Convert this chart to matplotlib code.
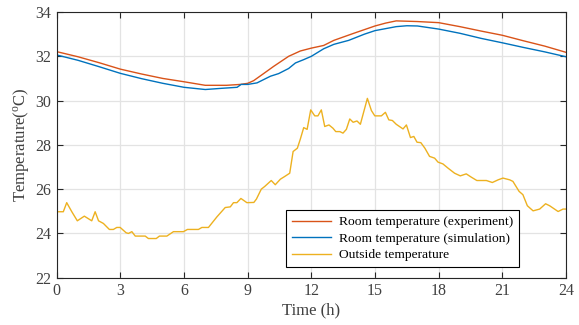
import matplotlib
matplotlib.use("Agg")
import matplotlib.pyplot as plt

plt.rcParams['font.family'] = ['Liberation Serif', 'DejaVu Serif']
plt.rcParams['mathtext.fontset'] = 'custom'
plt.rcParams['mathtext.rm'] = 'Liberation Serif'
plt.rcParams['mathtext.it'] = 'Liberation Serif:italic'

# Outside temperature (hours, degC)
out_t = [0, 0.31, 0.47, 0.71, 0.97, 1.3, 1.65, 1.81, 1.97, 2.2, 2.48, 2.67, 2.83, 2.99,
         3.27, 3.38, 3.54, 3.7, 4.17, 4.32, 4.69, 4.84, 5.19, 5.5, 5.97, 6.16, 6.68, 6.84,
         7.15, 7.55, 7.94, 8.18, 8.33, 8.49, 8.68, 8.96, 9.29, 9.41, 9.64, 9.8, 10.11, 10.3,
         10.54, 10.74, 10.98, 11.14, 11.34, 11.48, 11.64, 11.8, 11.97, 12.16, 12.31, 12.47,
         12.63, 12.83, 13.02, 13.15, 13.34, 13.49, 13.65, 13.81, 13.97, 14.15, 14.31, 14.64,
         14.83, 14.99, 15.3, 15.49, 15.65, 15.82, 16.0, 16.32, 16.48, 16.67, 16.83, 16.98,
         17.16, 17.35, 17.57, 17.81, 17.97, 18.2, 18.44, 18.75, 19.02, 19.3, 19.54, 19.8,
         20.25, 20.53, 20.8, 21.03, 21.35, 21.5, 21.79, 21.97, 22.18, 22.45, 22.76, 23.04,
         23.23, 23.63, 23.86, 24.0]
out_T = [24.98, 24.98, 25.39, 24.98, 24.57, 24.78, 24.57, 24.98, 24.57, 24.45, 24.18, 24.18,
         24.27, 24.27, 24.03, 24.0, 24.08, 23.88, 23.88, 23.77, 23.77, 23.88, 23.88, 24.08,
         24.08, 24.18, 24.18, 24.27, 24.27, 24.75, 25.17, 25.2, 25.39, 25.39, 25.58, 25.39,
         25.4, 25.55, 26.0, 26.12, 26.39, 26.2, 26.45, 26.57, 26.72, 27.7, 27.85, 28.26,
         28.78, 28.7, 29.58, 29.31, 29.31, 29.58, 28.83, 28.9, 28.75, 28.6, 28.6, 28.53,
         28.7, 29.17, 29.02, 29.08, 28.93, 30.1, 29.55, 29.31, 29.31, 29.47, 29.13, 29.1,
         28.93, 28.72, 28.9, 28.33, 28.38, 28.12, 28.1, 27.85, 27.48, 27.4, 27.22, 27.14,
         26.95, 26.72, 26.6, 26.69, 26.54, 26.39, 26.39, 26.3, 26.42, 26.5, 26.42, 26.35,
         25.9, 25.75, 25.25, 25.02, 25.1, 25.34, 25.25, 24.99, 25.1, 25.1]

# Room temperature (experiment)
exp_t = [0, 1, 2, 3, 4, 5, 6, 7, 8, 8.65, 9.0, 9.28, 9.75, 10.23, 10.93, 11.48, 12.0,
         12.58, 13.06, 14, 15, 15.5, 16, 17, 18, 19, 20, 21, 22, 23, 24]
exp_T = [32.21, 31.98, 31.71, 31.42, 31.2, 31.0, 30.85, 30.69, 30.69, 30.73, 30.78, 30.9,
         31.22, 31.55, 32.0, 32.24, 32.37, 32.49, 32.72, 33.04, 33.37, 33.5, 33.6, 33.57,
         33.52, 33.34, 33.14, 32.95, 32.7, 32.46, 32.18]

# Room temperature (simulation)
sim_t = [0, 1, 2, 3, 4, 5, 6, 7, 7.71, 8.5, 8.69, 9.0, 9.44, 10.07, 10.46, 10.93, 11.25,
         11.64, 12.0, 12.58, 13.06, 13.76, 14.5, 15, 16, 16.5, 17, 18, 19, 20, 21, 22, 23, 24]
sim_T = [32.06, 31.82, 31.53, 31.23, 30.99, 30.78, 30.6, 30.5, 30.55, 30.6, 30.73, 30.73,
         30.8, 31.1, 31.22, 31.45, 31.7, 31.85, 32.0, 32.34, 32.54, 32.72, 33.0, 33.16,
         33.34, 33.38, 33.37, 33.23, 33.04, 32.81, 32.61, 32.4, 32.2, 31.98]

xticks = [0, 3, 6, 9, 12, 15, 18, 21, 24]
yticks = [22, 24, 26, 28, 30, 32, 34]

fig = plt.figure(figsize=(5.79, 3.25), dpi=100)
ax = fig.add_axes([0.098, 0.1455, 0.8795, 0.8175])

ax.plot(exp_t, exp_T, color='#D95319', lw=1.0, label='Room temperature (experiment)')
ax.plot(sim_t, sim_T, color='#0072BD', lw=1.0, label='Room temperature (simulation)')
ax.plot(out_t, out_T, color='#EDB120', lw=1.0, label='Outside temperature')

ax.set_xlim(0, 24)
ax.set_ylim(22, 34)
ax.set_xticks(xticks)
ax.set_yticks(yticks)
ax.grid(True, color='#e3e3e3', lw=0.9)
ax.set_axisbelow(True)
ax.tick_params(direction='in', top=True, right=True, length=4, width=0.8,
               colors='#262626', labelcolor='#404040', labelsize=11.5, pad=4)
for s in ax.spines.values():
    s.set_color('#262626')
    s.set_linewidth(0.8)

ax.set_xlabel('Time (h)', fontsize=12, color='#404040', labelpad=2)
ax.set_ylabel(r'Temperature($^{\rm o}$C)', fontsize=12, color='#404040', labelpad=3)

leg = ax.legend(loc='lower right', bbox_to_anchor=(0.908, 0.039), borderaxespad=0,
                fancybox=False, edgecolor='black', fontsize=9.7, handlelength=2.9,
                handletextpad=0.6, labelspacing=0.3, borderpad=0.45, framealpha=1)
leg.get_frame().set_linewidth(0.8)

fig.savefig('out.png', dpi=100)
